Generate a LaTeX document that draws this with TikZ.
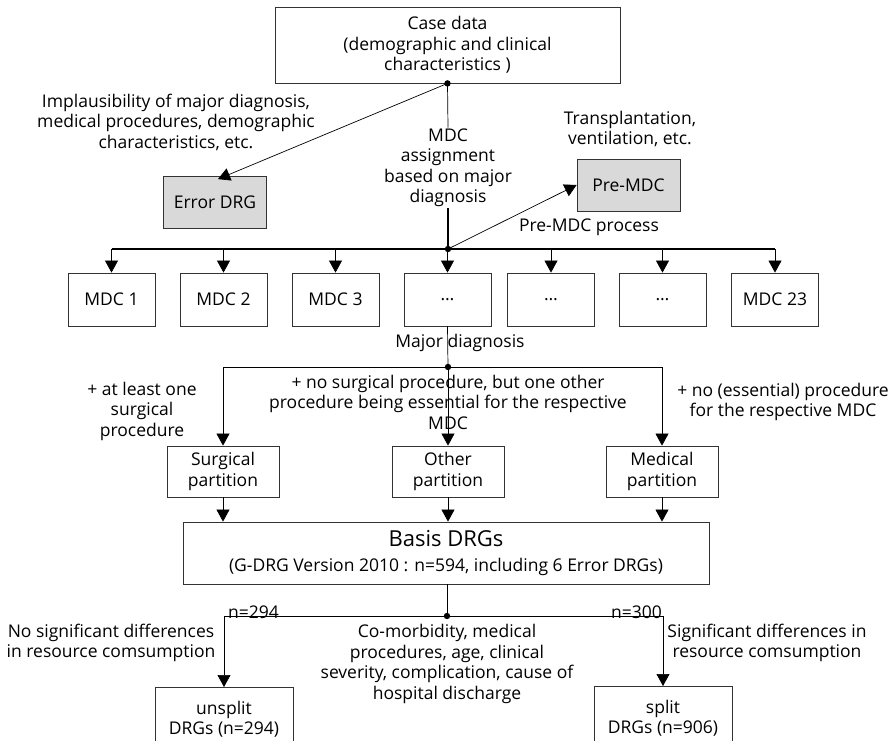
\documentclass[tikz,border=0pt]{standalone}
\usepackage{fontspec}
\setmainfont{Open Sans}
\usetikzlibrary{arrows.meta}
\begin{document}
\begin{tikzpicture}[x=1pt, y=-1pt,
    font=\fontsize{17.5}{20.5}\selectfont,
    box/.style={draw=black!80, line width=0.8pt, minimum width=87pt, minimum height=53pt, align=center, inner sep=2pt},
    greybox/.style={box, fill=black!15, minimum width=103pt, minimum height=52pt},
    partbox/.style={box, minimum width=112pt, minimum height=51pt},
    arr/.style={-{Triangle[width=13pt,length=12pt]}, line width=0.7pt},
    trunk/.style={line width=1.6pt},
    lbl/.style={align=center, inner sep=0pt}]
  \useasboundingbox (0,0) rectangle (895,741);

  % boxes
  \node [box, minimum width=345pt, minimum height=76pt] (case) at (447.5, 45)
    {Case data\\(demographic and clinical\\characteristics )};
  \node [greybox] (err) at (215, 202.5) {Error DRG};
  \node [greybox] (pre) at (628.5, 185) {Pre-MDC};
  \node [box] (mdc1) at (111.5, 299.5) {MDC 1};
  \node [box] (mdc2) at (223.5, 299.5) {MDC 2};
  \node [box] (mdc3) at (335.5, 299.5) {MDC 3};
  \node [box] (mdc4) at (447.5, 299.5) {\dots};
  \node [box] (mdc5) at (551, 299.5) {\dots};
  \node [box] (mdc6) at (662.5, 299.5) {\dots};
  \node [box] (mdc23) at (775, 299.5) {MDC 23};
  \node [partbox] (surg) at (223, 471.5) {Surgical\\partition};
  \node [partbox] (other) at (448, 471.5) {Other\\partition};
  \node [partbox] (med) at (662, 471.5) {Medical\\partition};
  \node [box, minimum width=526pt, minimum height=62pt, font=\fontsize{17.5}{25}\selectfont] (basis) at (446, 553)
    {{\fontsize{22}{25}\selectfont Basis DRGs}\\(G-DRG Version 2010 : n=594, including 6 Error DRGs)};
  \node [box, minimum width=138pt, minimum height=64pt, anchor=north] (unsplit) at (224, 687)
    {unsplit\\DRGs (n=294)};
  \node [box, minimum width=138pt, minimum height=64pt, anchor=north] (split) at (663, 686)
    {split\\DRGs (n=906)};

  % junctions
  \coordinate (top) at (case.south);
  \coordinate (j1) at (448, 249);
  \coordinate (j2) at (448, 367);
  \coordinate (j3) at (447, 616);

  % case data to error DRG, pre-MDC and MDCs
  \draw [arr] (top) -- ([xshift=3pt, yshift=-3pt]err.north);
  \node [lbl, fill=white, inner sep=1pt] (assign) at (448, 168) {MDC\\assignment\\based on major\\diagnosis};
  \draw [line width=0.7pt] (top) -- (assign.north);
  \draw [trunk] (assign.south) -- (j1);
  \draw [arr] (j1) -- (pre.west);
  \draw [trunk] (mdc1.north |- j1) -- (mdc23.north |- j1);
  \foreach \m in {mdc1, mdc2, mdc3, mdc4, mdc5, mdc6, mdc23}
    \draw [arr] (\m.north |- j1) -- (\m.north);
  \node [lbl] (implaus) at (176, 122) {Implausibility of major diagnosis,\\medical procedures, demographic\\characteristics, etc.};
  \node [lbl] (transpl) at (630, 129) {Transplantation,\\ventilation, etc.};
  \node [lbl] (preproc) at (589, 227) {Pre-MDC process};

  % partitions
  \draw [line width=0.7pt] (mdc4.south) -- (j2);
  \node [lbl] (major) at (460, 343) {Major diagnosis};
  \draw [line width=0.7pt] (surg.north |- j2) -- (med.north |- j2);
  \draw [arr] (surg.north |- j2) -- (surg.north);
  \draw [arr] (j2) -- (other.north);
  \draw [arr] (med.north |- j2) -- (med.north);
  \node [lbl] (surglbl) at (142, 411) {+ at least one\\surgical\\procedure};
  \node [lbl] (otherlbl) at (448, 402) {+ no surgical procedure, but one other\\procedure being essential for the respective\\MDC};
  \node [lbl] (medlbl) at (783, 402) {+ no (essential) procedure\\for the respective MDC};

  % basis DRGs
  \foreach \p in {surg, other, med}
    \draw [arr] (\p.south) -- (\p.south |- basis.north);
  \draw [line width=0.7pt] (basis.south -| j3) -- (j3);
  \draw [line width=0.7pt] (unsplit.north |- j3) -- (split.north |- j3);
  \draw [arr] (unsplit.north |- j3) -- (unsplit.north);
  \draw [arr] (split.north |- j3) -- (split.north);
  \node [lbl, anchor=south west] (n294) at ([xshift=4pt, yshift=-3pt]unsplit.north |- j3) {n=294};
  \node [lbl, anchor=south east] (n300) at ([xshift=-1pt, yshift=-3pt]split.north |- j3) {n=300};
  \node [lbl] (nosig) at (111, 643) {No significant differences\\in resource comsumption};
  \node [lbl] (comorb) at (447, 664) {Co-morbidity, medical\\procedures, age, clinical\\severity, complication, cause of\\hospital discharge};
  \node [lbl] (sig) at (767, 643) {Significant differences in\\resource comsumption};

  % dots
  \foreach \j in {top, j1, j2, j3}
    \fill (\j) circle (3.2pt);
\end{tikzpicture}
\end{document}
